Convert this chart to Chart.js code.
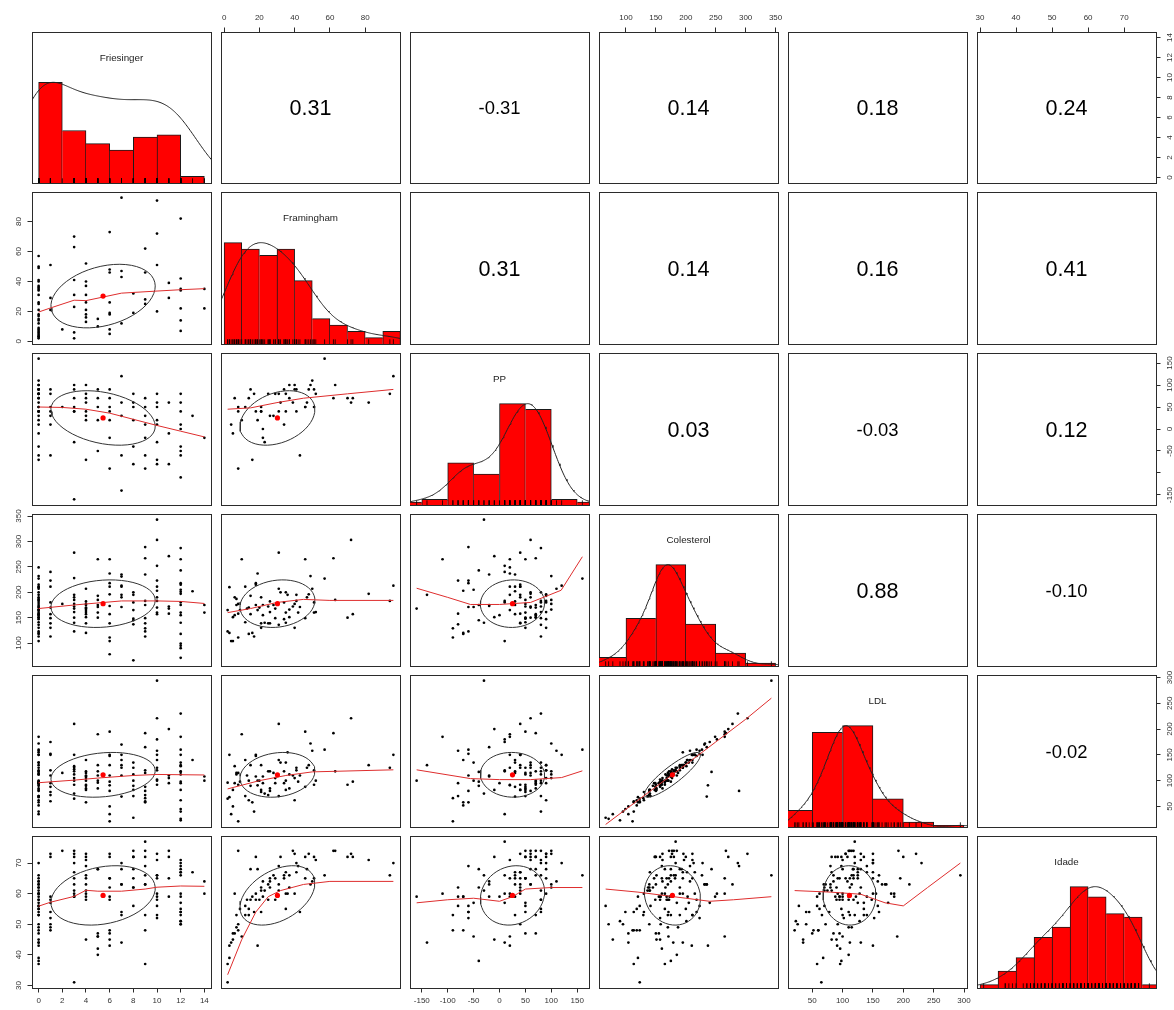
<!DOCTYPE html>
<html>
<head>
<meta charset="utf-8">
<title>pairs.panels</title>
<script src="https://cdn.jsdelivr.net/npm/chart.js@4.4.1/dist/chart.umd.min.js"></script>
<style>
  html, body { margin: 0; padding: 0; background: #ffffff; }
  #grid { position: relative; width: 1174px; height: 1010px; overflow: hidden; background: #ffffff; }
  #grid canvas { position: absolute; }
</style>
</head>
<body>
<div id="grid"></div>
<script>
// ---------------------------------------------------------------
// Data: one entry per patient, null where the value is missing.
// Rows are grouped by Friesinger score.
// ---------------------------------------------------------------
const variableNames = ['Friesinger', 'Framingham', 'PP', 'Colesterol', 'LDL', 'Idade'];

const friesinger = [
  0,0,0,0,0,0,0,0,0,0,0,0,0,0,0,0,0,0,0,0,0,0,0,0,0,0,0,0,0,0,0,0,0,0,0,
  1,1,1,1,1,1,1,1,1,1,
  2,
  3,3,3,3,3,3,3,3,3,3,3,3,
  4,4,4,4,4,4,4,4,4,4,4,4,
  5,5,5,5,5,5,5,
  6,6,6,6,6,6,6,6,6,6,6,
  7,7,7,7,7,7,7,
  8,8,8,8,8,8,8,8,
  9,9,9,9,9,9,9,9,9,9,
  10,10,10,10,10,10,10,10,10,10,10,
  11,11,11,11,
  12,12,12,12,12,12,12,12,12,12,12,12,12,12,12,12,12,12,
  13,
  14,14
];

const framingham = [
  41,57,null,34,50,26,49,null,21,37,31,36,18,40,null,15,25,null,12,null,35,9,17,14,null,8,7,null,6,5,null,4,3,3,2,
  null,51,null,29,null,21,null,null,null,null,
  8,
  63,null,70,null,41,null,31,23,6,null,null,2,
  40,52,31,37,26,null,21,18,null,16,13,null,
  15,null,null,10,null,null,null,
  48,73,46,null,26,19,null,18,8,5,null,
  96,47,null,null,43,12,null,
  null,32,null,19,null,null,null,null,
  null,62,46,null,28,null,25,null,null,null,
  72,null,94,null,51,null,null,20,null,null,null,
  39,null,29,null,
  82,null,42,null,35,null,34,null,22,null,14,null,null,7,null,null,null,null,
  null,
  22,35
];

const pp = [
  90,160,-40,90,110,null,100,60,40,100,80,null,40,90,20,null,80,50,50,-60,80,null,80,70,30,40,null,-70,70,-10,null,10,null,null,null,
  40,90,30,80,10,50,-60,null,null,null,
  50,
  100,90,70,null,40,50,40,-30,null,-160,null,null,
  100,80,null,70,30,60,40,null,20,-70,null,null,
  90,70,50,20,-50,null,null,
  90,70,50,40,null,20,-20,null,-90,null,null,
  120,60,null,30,-60,null,-140,
  80,60,50,null,20,-40,-80,null,
  10,70,50,-60,30,-20,null,-90,null,null,
  60,20,80,-30,50,10,-70,null,-80,null,null,
  60,-10,null,-80,
  60,80,null,-40,40,null,10,-110,0,-50,null,-60,null,null,null,null,null,null,
  30,
  -20,null
];

const colesterol = [
  183,227,175,147,207,161,232,150,190,166,136,195,215,130,249,157,172,185,141,123,200,165,113,170,211,158,187,118,155,151,179,104,210,120,165,
  211,180,157,149,240,130,223,139,170,113,
  177,
  185,161,150,228,195,172,278,140,190,168,177,123,
  177,161,207,151,182,170,139,175,165,120,168,157,
  193,175,150,265,171,160,185,
  196,157,265,211,139,237,173,218,111,104,78,
  213,190,231,235,171,211,195,
  180,200,148,165,195,145,137,66,
  183,267,149,289,175,235,139,129,123,113,
  303,211,183,343,160,252,203,170,223,190,157,
  172,271,168,158,
  197,287,160,243,140,215,180,265,155,205,118,218,99,175,95,201,90,71,
  202,
  175,160
];

const ldl = [
  120,160,98,95,158,85,172,80,130,112,70,155,150,62,185,90,118,125,70,58,135,98,40,100,135,92,115,52,95,82,112,35,150,68,96,
  150,120,88,95,175,78,152,72,110,60,
  115,
  118,105,92,150,125,112,210,75,128,100,122,65,
  105,100,140,85,118,115,82,108,92,58,110,90,
  130,118,85,190,100,96,110,
  130,98,195,150,80,91,110,148,21,50,35,
  150,125,170,69,110,140,130,
  112,135,82,100,125,90,70,28,
  120,192,88,80,115,165,72,66,60,58,
  221,150,125,294,92,180,140,100,158,120,102,
  110,200,105,95,
  130,230,98,117,82,150,118,185,95,135,62,160,45,112,40,128,23,26,
  140,
  108,100
];

const idade = [
  70,66,38,65,64,64,63,63,62,62,61,60,60,60,59,58,58,57,56,56,55,55,54,53,53,50,49,48,47,45,44,44,43,39,37,
  73,72,59,58,57,54,52,50,49,48,
  74,
  74,73,72,70,67,65,63,61,60,59,59,31,
  73,71,69,66,65,63,61,72,60,59,58,45,
  68,68,47,46,46,42,40,
  73,72,65,65,62,43,59,58,48,47,45,
  70,68,63,63,54,53,44,
  74,72,72,68,65,62,62,56,
  77,74,72,69,66,63,63,53,48,37,
  73,71,66,66,65,60,59,58,56,53,52,
  74,72,65,59,
  71,70,69,68,67,67,66,60,59,57,55,54,54,53,50,51,51,50,
  67,
  64,60
];

// Tick positions of the outer axes
const friTicks = [0, 2, 4, 6, 8, 10, 12, 14];
const framTicks = [0, 20, 40, 60, 80];
const ppTicks = [-150, -100, -50, 0, 50, 100, 150];
const colTicks = [100, 150, 200, 250, 300, 350];
const ldlTicks = [50, 100, 150, 200, 250, 300];
const idadeTicks = [30, 40, 50, 60, 70];

// Histogram class boundaries on the diagonal
const friBreaks = [0, 2, 4, 6, 8, 10, 12, 14];
const framBreaks = [0, 10, 20, 30, 40, 50, 60, 70, 80, 90, 100];
const ppBreaks = [-200, -150, -100, -50, 0, 50, 100, 150, 200];
const colBreaks = [50, 100, 150, 200, 250, 300, 350];
const ldlBreaks = [0, 50, 100, 150, 200, 250, 300];
const idadeBreaks = [30, 35, 40, 45, 50, 55, 60, 65, 70, 75, 80];

// Correlations printed in the upper triangle (row by row)
const corValues = [0.31, -0.31, 0.14, 0.18, 0.24,
                   0.31, 0.14, 0.16, 0.41,
                   0.03, -0.03, 0.12,
                   0.88, -0.10,
                   -0.02];

// Smoothed trend lines of the lower panels, [x, y] in data units
const smoothFriFram  = [[0,19.6],[1,22.3],[3,27.5],[4,27.2],[5.5,29.7],[7,32.2],[10,33.6],[12,34.5],[14,35.2]];
const smoothFriPP    = [[0,50],[2,49],[4,45],[6,36],[8,22],[10,8],[12,-5],[14,-18]];
const smoothFriCol   = [[0,168],[3,175],[4,177],[7,183],[10,183],[12,182],[14,178]];
const smoothFriLDL   = [[0,96],[3,101],[5,105],[8,110],[10,112],[14,111]];
const smoothFriIdade = [[0,55.9],[1,57.2],[3,59.1],[4,61.1],[5,60.8],[7,60.8],[9,61.5],[10,62.1],[12,62.5],[14,62.4]];
const smoothFramPP    = [[2,45],[15,48],[30,60],[45,70],[70,80],[96,90]];
const smoothFramCol   = [[2,160],[15,168],[30,180],[45,186],[60,184],[96,184]];
const smoothFramLDL   = [[2,84],[20,100],[35,110],[50,117],[96,121]];
const smoothFramIdade = [[2,33.5],[10,45],[18,54],[25,59],[32,61],[45,63],[60,64],[96,64]];
const smoothPPCol   = [[-160,208],[-100,190],[-56,176],[0,176],[60,180],[119,204],[160,270]];
const smoothPPLDL   = [[-160,121],[-56,104],[0,102],[60,102],[120,106],[160,119]];
const smoothPPIdade = [[-160,57],[-100,58],[-50,58.5],[0,57.5],[25,59],[50,61.5],[100,62],[160,62]];
const smoothColLDL   = [[66,15],[150,88],[200,131],[250,175],[300,219],[343,260]];
const smoothColIdade = [[66,61.5],[120,60.5],[160,59.5],[200,58.5],[240,57.5],[280,58],[343,59]];
const smoothLDLIdade = [[21,61],[80,60.5],[130,59.8],[170,57],[200,56],[240,62],[294,70]];

// ---------------------------------------------------------------
// Layout and styling
// ---------------------------------------------------------------
const columns = [friesinger, framingham, pp, colesterol, ldl, idade];
const tickSets = [friTicks, framTicks, ppTicks, colTicks, ldlTicks, idadeTicks];
const breakSets = [friBreaks, framBreaks, ppBreaks, colBreaks, ldlBreaks, idadeBreaks];
const smoothLookup = {
  '1-0': smoothFriFram, '2-0': smoothFriPP, '3-0': smoothFriCol, '4-0': smoothFriLDL, '5-0': smoothFriIdade,
  '2-1': smoothFramPP, '3-1': smoothFramCol, '4-1': smoothFramLDL, '5-1': smoothFramIdade,
  '3-2': smoothPPCol, '4-2': smoothPPLDL, '5-2': smoothPPIdade,
  '4-3': smoothColLDL, '5-3': smoothColIdade,
  '5-4': smoothLDLIdade
};

const M = 30;                       // canvas margin around each panel
const TICK_LEN = 4.5;
const FONT_FAMILY = '"Liberation Sans", Arial, Helvetica, sans-serif';
const AXIS_FONT = 8;
const LABEL_FONT = 9.8;
const COR_TEXT_WIDTH = 42;
const BOX_COLOR = '#2b2b2b';
const PANEL_LEFT = [32, 221, 410, 599, 788, 977];
const PANEL_TOP = [32, 192, 353, 514, 675, 836];
const PANEL_W = 179;
const PANEL_H = [151, 152, 152, 152, 152, 152];
const HIST_TOP = 1.5;

const measureCtx = document.createElement('canvas').getContext('2d');
function textWidth(str, size) {
  measureCtx.font = `normal normal ${size}px ${FONT_FAMILY}`;
  return measureCtx.measureText(str).width;
}

function present(vals) { return vals.filter(v => v !== null && v !== undefined); }
function mean(vals) { const v = present(vals); return v.reduce((a, b) => a + b, 0) / v.length; }
function sd(vals) {
  const v = present(vals); const m = mean(v);
  return Math.sqrt(v.reduce((a, b) => a + (b - m) * (b - m), 0) / (v.length - 1));
}
function quantile(sorted, p) {
  const pos = (sorted.length - 1) * p, lo = Math.floor(pos), hi = Math.ceil(pos);
  return sorted[lo] + (sorted[hi] - sorted[lo]) * (pos - lo);
}
function axisRange(vals) {
  const v = present(vals);
  const lo = Math.min(...v), hi = Math.max(...v), pad = (hi - lo) * 0.04;
  return [lo - pad, hi + pad];
}
const ranges = columns.map(axisRange);

function histCounts(vals, breaks) {
  const counts = new Array(breaks.length - 1).fill(0);
  present(vals).forEach(v => {
    for (let k = 0; k < breaks.length - 1; k++) {
      if ((v > breaks[k] || (k === 0 && v === breaks[0])) && v <= breaks[k + 1]) { counts[k]++; break; }
    }
  });
  return counts;
}

// Gaussian kernel density, bandwidth = 1.2 x normal reference rule
function densityCurve(vals) {
  const v = present(vals).slice().sort((a, b) => a - b);
  const n = v.length;
  const iqr = quantile(v, 0.75) - quantile(v, 0.25);
  const h = 1.06 * Math.min(sd(v), iqr / 1.34) * Math.pow(n, -0.2) * 1.2;
  const lo = v[0] - 3 * h, hi = v[n - 1] + 3 * h;
  const pts = [];
  const steps = 300;
  for (let s = 0; s <= steps; s++) {
    const x = lo + (hi - lo) * s / steps;
    let d = 0;
    for (let k = 0; k < n; k++) { const z = (x - v[k]) / h; d += Math.exp(-0.5 * z * z); }
    pts.push({ x, y: d });
  }
  const peak = Math.max(...pts.map(p => p.y));
  return pts.map(p => ({ x: p.x, y: p.y / peak }));
}

function ellipsePoints(xm, ym, xs, ys, r) {
  const segments = 51;
  const t = Math.abs(r) > 0 ? Math.sign(r) / Math.SQRT2 : 1 / Math.SQRT2;
  const a = Math.sqrt(1 + r), b = Math.sqrt(1 - r);
  const pts = [];
  for (let k = 0; k <= segments; k++) {
    const ang = k * 2 * Math.PI / segments, c = Math.cos(ang), s = Math.sin(ang);
    pts.push({ x: (c * a * t - s * b * t) * xs + xm, y: (c * a * t + s * b * t) * ys + ym });
  }
  return pts;
}

function corValue(a, b) {
  const lo = Math.min(a, b), hi = Math.max(a, b);
  let idx = 0;
  for (let i = 0; i < 6; i++) for (let j = i + 1; j < 6; j++) {
    if (i === lo && j === hi) return corValues[idx];
    idx++;
  }
  return 0;
}

// Tick labels that would crowd their neighbour are left out (the tick stays)
function visibleLabels(ticks, range, length) {
  const gap = textWidth('m', AXIS_FONT);
  const kept = new Set();
  let lastEnd = -Infinity;
  ticks.forEach(v => {
    const p = (v - range[0]) / (range[1] - range[0]) * length;
    const half = textWidth(String(v), AXIS_FONT) / 2;
    if (p - half >= lastEnd + gap) { kept.add(v); lastEnd = p + half; }
  });
  return kept;
}

// Text drawn inside panels: correlation coefficients and variable names
const panelTextPlugin = {
  id: 'panelText',
  afterDatasetsDraw(chart, args, opts) {
    const a = chart.chartArea, ctx = chart.ctx;
    ctx.save();
    ctx.fillStyle = '#000';
    ctx.textAlign = 'center';
    ctx.textBaseline = 'alphabetic';
    if (opts.cor) {
      const size = COR_TEXT_WIDTH / textWidth(opts.cor, 100) * 100;
      ctx.font = `normal normal ${size}px ${FONT_FAMILY}`;
      ctx.fillText(opts.cor, (a.left + a.right) / 2, (a.top + a.bottom) / 2 + 0.36 * size);
    }
    if (opts.label) {
      ctx.fillStyle = '#222';
      ctx.font = `normal normal ${LABEL_FONT}px ${FONT_FAMILY}`;
      const y = chart.scales.y.getPixelForValue(1.25);
      ctx.fillText(opts.label, (a.left + a.right) / 2, y + 0.36 * LABEL_FONT);
    }
    ctx.restore();
  }
};
Chart.register(panelTextPlugin);

function scaleConfig(position, range, ticks, show, length) {
  const vertical = position === 'left' || position === 'right';
  const inRange = ticks.filter(v => v >= range[0] && v <= range[1]);
  const labelled = visibleLabels(inRange, range, length);
  let padding = 4;
  if (show) {
    if (vertical) {
      const widest = Math.max(...inRange.map(v => textWidth(String(v), AXIS_FONT)));
      const offset = position === 'left' ? 12.8 : 13.8;
      padding = offset - TICK_LEN - widest / 2;
    } else {
      padding = position === 'top' ? 5.2 : 3.9;
    }
  }
  return {
    type: 'linear',
    position,
    min: range[0],
    max: range[1],
    offset: false,
    grid: { display: show, offset: false, drawOnChartArea: false, drawTicks: true, tickLength: TICK_LEN, color: BOX_COLOR, lineWidth: 1 },
    border: { display: true, color: BOX_COLOR, width: 1 },
    ticks: {
      display: show,
      autoSkip: false,
      color: '#333',
      font: { family: FONT_FAMILY, size: AXIS_FONT },
      padding,
      minRotation: vertical ? 90 : 0,
      maxRotation: vertical ? 90 : 0,
      crossAlign: vertical ? 'center' : 'near',
      callback: v => (labelled.has(v) ? String(v) : '')
    },
    afterBuildTicks: s => {
      s.ticks = inRange.map(v => ({ value: v }));
    },
    afterFit: s => { if (vertical) s.width = M; else s.height = M; }
  };
}

const grid = document.getElementById('grid');

for (let i = 0; i < 6; i++) {
  for (let j = 0; j < 6; j++) {
    const w = PANEL_W, h = PANEL_H[i];
    const canvas = document.createElement('canvas');
    canvas.width = w + 2 * M;
    canvas.height = h + 2 * M;
    canvas.style.width = (w + 2 * M) + 'px';
    canvas.style.height = (h + 2 * M) + 'px';
    canvas.style.left = (PANEL_LEFT[j] - M) + 'px';
    canvas.style.top = (PANEL_TOP[i] - M) + 'px';
    grid.appendChild(canvas);

    const xRange = ranges[j];
    const yRange = i === j ? [0, HIST_TOP] : ranges[i];
    const showTop = i === 0 && j % 2 === 1;
    const showBottom = i === 5 && j % 2 === 0;
    const showLeft = j === 0 && i % 2 === 1;
    const showRight = j === 5 && i % 2 === 0;

    const scales = {
      x: scaleConfig('bottom', xRange, tickSets[j], showBottom, w),
      x2: scaleConfig('top', xRange, tickSets[j], showTop, w),
      y: scaleConfig('left', yRange, tickSets[i], showLeft, h),
      y2: scaleConfig('right', yRange, tickSets[i], showRight, h)
    };

    let type = 'scatter';
    const datasets = [];
    const textOpts = {};

    if (i === j) {
      // Diagonal: histogram, density curve and rug
      type = 'bar';
      const vals = columns[i];
      const breaks = breakSets[i];
      const counts = histCounts(vals, breaks);
      const maxCount = Math.max(...counts);
      const heights = counts.map(c => c / maxCount);
      const bars = heights.map((hgt, k) => ({ x: (breaks[k] + breaks[k + 1]) / 2, y: hgt }));
      datasets.push({
        type: 'line', data: densityCurve(vals), borderColor: '#222', borderWidth: 1,
        pointRadius: 0, tension: 0, xAxisID: 'x', yAxisID: 'y'
      });
      datasets.push({
        type: 'scatter', data: present(vals).map(v => ({ x: v, y: 0.0225 })),
        pointStyle: 'line', pointRotation: 90, pointRadius: 2.4,
        pointBorderColor: '#000', pointBorderWidth: 0.8, xAxisID: 'x', yAxisID: 'y'
      });
      datasets.push({
        type: 'bar', data: bars, backgroundColor: '#ff0000', borderColor: '#1a1a1a',
        borderSkipped: false, barPercentage: 1, categoryPercentage: 1, grouped: false,
        borderWidth: ctx => {
          const k = ctx.dataIndex, hk = heights[k];
          if (!hk) return 0;
          const prev = k > 0 ? heights[k - 1] : -1;
          const next = k < heights.length - 1 ? heights[k + 1] : -1;
          return { top: 1, bottom: 0, left: prev < hk ? 1 : 0, right: next <= hk ? 1 : 0 };
        },
        xAxisID: 'x', yAxisID: 'y'
      });
      textOpts.label = variableNames[i];
    } else if (j > i) {
      // Upper triangle: correlation coefficient
      textOpts.cor = corValue(i, j).toFixed(2);
    } else {
      // Lower triangle: scatter, correlation ellipse, mean and smoothed trend
      const xs = columns[j], ys = columns[i];
      const pts = [];
      for (let k = 0; k < xs.length; k++) {
        if (xs[k] !== null && ys[k] !== null) pts.push({ x: xs[k], y: ys[k] });
      }
      const xm = mean(xs), ym = mean(ys);
      const r = corValue(i, j);
      datasets.push({
        type: 'scatter', data: [{ x: xm, y: ym }], pointRadius: 2.6,
        pointBackgroundColor: '#ff0000', pointBorderColor: '#ff0000', pointBorderWidth: 0,
        xAxisID: 'x', yAxisID: 'y'
      });
      datasets.push({
        type: 'line', data: smoothLookup[i + '-' + j].map(p => ({ x: p[0], y: p[1] })),
        borderColor: 'rgb(222,45,45)', borderWidth: 1, pointRadius: 0, tension: 0,
        xAxisID: 'x', yAxisID: 'y'
      });
      datasets.push({
        type: 'line', data: ellipsePoints(xm, ym, sd(xs), sd(ys), r),
        borderColor: '#333', borderWidth: 1, pointRadius: 0, tension: 0,
        xAxisID: 'x', yAxisID: 'y'
      });
      datasets.push({
        type: 'scatter', data: pts, pointRadius: 1.35, pointBackgroundColor: '#000',
        pointBorderWidth: 0, xAxisID: 'x', yAxisID: 'y'
      });
    }

    new Chart(canvas, {
      type,
      data: { datasets },
      options: {
        responsive: false,
        maintainAspectRatio: false,
        animation: false,
        devicePixelRatio: 1,
        events: [],
        layout: { padding: 0, autoPadding: false },
        plugins: { legend: { display: false }, tooltip: { enabled: false }, panelText: textOpts },
        scales
      }
    });
  }
}
</script>
</body>
</html>
